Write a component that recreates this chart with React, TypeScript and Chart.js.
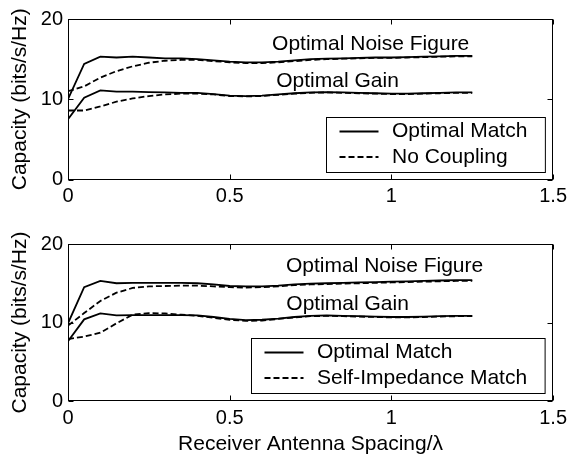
import React, { useEffect, useRef } from 'react';
import { Chart, registerables } from 'chart.js';

Chart.register(...registerables);

// Receiver antenna spacing (in wavelengths)
const spacing = [
  0, 0.05, 0.1, 0.15, 0.2, 0.25, 0.3, 0.35, 0.4, 0.45, 0.5, 0.55, 0.6,
  0.65, 0.7, 0.75, 0.8, 0.85, 0.9, 0.95, 1.0, 1.05, 1.1, 1.15, 1.2, 1.25,
];

// Top panel: Optimal Match vs No Coupling
const topNoiseOptimal = [
  10.0, 14.4, 15.3, 15.2, 15.3, 15.2, 15.1, 15.1, 15.0, 14.85, 14.7, 14.6, 14.6,
  14.7, 14.85, 15.0, 15.05, 15.1, 15.15, 15.2, 15.2, 15.25, 15.3, 15.35, 15.4, 15.4,
];
const topNoiseNoCoupling = [
  11.0, 11.6, 12.7, 13.5, 14.1, 14.55, 14.8, 14.9, 14.9, 14.75, 14.6, 14.5, 14.5,
  14.6, 14.75, 14.9, 15.0, 15.05, 15.1, 15.15, 15.15, 15.2, 15.25, 15.3, 15.35, 15.35,
];
const topGainOptimal = [
  7.5, 10.2, 11.1, 10.95, 10.95, 10.9, 10.85, 10.8, 10.8, 10.65, 10.45, 10.4, 10.45,
  10.6, 10.75, 10.85, 10.9, 10.85, 10.8, 10.75, 10.7, 10.7, 10.75, 10.8, 10.85, 10.85,
];
const topGainNoCoupling = [
  8.6, 8.6, 9.1, 9.7, 10.1, 10.4, 10.6, 10.7, 10.7, 10.6, 10.4, 10.35, 10.4,
  10.55, 10.7, 10.8, 10.85, 10.8, 10.75, 10.7, 10.65, 10.65, 10.7, 10.75, 10.8, 10.8,
];

// Bottom panel: Optimal Match vs Self-Impedance Match
const botNoiseOptimal = [
  9.9, 14.5, 15.3, 15.0, 15.05, 15.05, 15.05, 15.05, 15.0, 14.85, 14.65, 14.6, 14.6,
  14.7, 14.85, 14.95, 15.0, 15.05, 15.1, 15.15, 15.2, 15.25, 15.3, 15.35, 15.4, 15.4,
];
const botNoiseSelfImp = [
  9.6, 11.2, 12.75, 13.8, 14.4, 14.6, 14.65, 14.7, 14.7, 14.6, 14.5, 14.45, 14.5,
  14.6, 14.75, 14.85, 14.9, 14.95, 15.0, 15.05, 15.1, 15.15, 15.2, 15.25, 15.3, 15.3,
];
const botGainOptimal = [
  7.6, 10.4, 11.15, 10.9, 10.95, 10.95, 10.95, 10.95, 10.9, 10.7, 10.45, 10.3, 10.35,
  10.5, 10.7, 10.85, 10.9, 10.85, 10.8, 10.75, 10.7, 10.7, 10.75, 10.8, 10.85, 10.85,
];
const botGainSelfImp = [
  7.9, 8.2, 8.7, 9.9, 11.0, 11.2, 11.15, 11.0, 10.85, 10.6, 10.35, 10.2, 10.25,
  10.45, 10.65, 10.8, 10.85, 10.8, 10.75, 10.7, 10.65, 10.65, 10.7, 10.75, 10.8, 10.8,
];

const xTickValues = [0, 0.5, 1, 1.5];
const yTickValues = [0, 10, 20];

const topLegend = ['Optimal Match', 'No Coupling'];
const bottomLegend = ['Optimal Match', 'Self-Impedance Match'];

const curveLabels = ['Optimal Noise Figure', 'Optimal Gain'];
const topLabelPos = [
  { x: 0.631, y: 16.1 },
  { x: 0.644, y: 11.55 },
];
const bottomLabelPos = [
  { x: 0.674, y: 16.45 },
  { x: 0.675, y: 11.64 },
];

const yTitle = 'Capacity (bits/s/Hz)';
const xTitle = 'Receiver Antenna Spacing/\u03BB';

const FAMILY = "'Liberation Sans', Arial, Helvetica, sans-serif";
const DASH = [6, 3];

const toXY = (ys: number[]) => ys.map((y, i) => ({ x: spacing[i], y }));

const framePlugin = {
  id: 'frame',
  afterDatasetsDraw(chart: any, _args: any, opts: any) {
    const { ctx, chartArea: a, scales } = chart;
    const xs = scales.x;
    const ys = scales.y;
    ctx.save();
    ctx.strokeStyle = '#000';
    ctx.lineWidth = 1;
    ctx.setLineDash([]);
    const L = Math.round(a.left) + 0.5;
    const R = Math.round(a.right) - 0.5;
    const T = Math.round(a.top) + 0.5;
    const B = Math.round(a.bottom) - 0.5;
    ctx.strokeRect(L, T, R - L, B - T);
    const tl = 5;
    ctx.beginPath();
    for (const v of xTickValues) {
      const px = Math.round(xs.getPixelForValue(v)) + 0.5;
      ctx.moveTo(px, B);
      ctx.lineTo(px, B - tl);
      ctx.moveTo(px, T);
      ctx.lineTo(px, T + tl);
    }
    for (const v of yTickValues) {
      const py = Math.round(ys.getPixelForValue(v)) + 0.5;
      ctx.moveTo(L, py);
      ctx.lineTo(L + tl, py);
      ctx.moveTo(R, py);
      ctx.lineTo(R - tl, py);
    }
    ctx.stroke();

    // curve annotations
    ctx.fillStyle = '#000';
    ctx.font = `21px ${FAMILY}`;
    ctx.textAlign = 'left';
    ctx.textBaseline = 'alphabetic';
    opts.labels.forEach((t: string, i: number) => {
      const p = opts.labelPos[i];
      ctx.fillText(t, xs.getPixelForValue(p.x), ys.getPixelForValue(p.y));
    });

    // legend box
    const items: string[] = opts.legend;
    const textW = Math.max(...items.map((t) => ctx.measureText(t).width));
    const textOff = 65.5;
    const bw = textOff + textW + 18;
    const bh = 55;
    const bx = Math.round(a.right - 8 - bw) + 0.5;
    const by = Math.round(a.bottom - 8 - bh) + 0.5;
    ctx.fillStyle = '#fff';
    ctx.fillRect(bx, by, bw, bh);
    ctx.strokeRect(bx, by, bw, bh);
    ctx.fillStyle = '#000';
    ctx.textBaseline = 'middle';
    items.forEach((t, i) => {
      const cy = by + 14 + i * 25.5;
      ctx.beginPath();
      ctx.lineWidth = 1.8;
      ctx.setLineDash(i === 0 ? [] : DASH);
      ctx.moveTo(bx + 13, cy);
      ctx.lineTo(bx + 52, cy);
      ctx.stroke();
      ctx.setLineDash([]);
      ctx.fillText(t, bx + textOff, cy);
    });
    ctx.restore();
  },
};

type PanelProps = {
  height: number;
  padTop: number;
  xAxisHeight: number;
  showXTitle: boolean;
  series: number[][];
  legend: string[];
  labelPos: { x: number; y: number }[];
};

function Panel(props: PanelProps) {
  const ref = useRef<HTMLCanvasElement>(null);
  useEffect(() => {
    const canvas = ref.current;
    if (!canvas) return;
    const [nfOpt, nfAlt, gOpt, gAlt] = props.series;
    const line = (label: string, ys: number[], dashed: boolean) => ({
      label,
      data: toXY(ys),
      borderColor: '#000',
      backgroundColor: '#000',
      borderWidth: 1.8,
      borderDash: dashed ? DASH : [],
      pointRadius: 0,
      tension: 0,
      fill: false,
    });
    const chart = new Chart(canvas, {
      type: 'line',
      data: {
        datasets: [
          line(props.legend[0], nfOpt, false),
          line(props.legend[1], nfAlt, true),
          line(props.legend[0], gOpt, false),
          line(props.legend[1], gAlt, true),
        ],
      },
      options: {
        responsive: false,
        animation: false,
        layout: { padding: { left: 0, right: 17, top: props.padTop, bottom: 0 } },
        plugins: {
          legend: { display: false },
          tooltip: { enabled: false },
          // @ts-ignore
          frame: { labels: curveLabels, labelPos: props.labelPos, legend: props.legend },
        },
        scales: {
          x: {
            type: 'linear',
            min: 0,
            max: 1.5,
            afterBuildTicks: (s: any) => {
              s.ticks = xTickValues.map((v) => ({ value: v }));
            },
            afterFit: (s: any) => {
              s.height = props.xAxisHeight;
            },
            ticks: {
              color: '#000',
              font: { family: FAMILY, size: 20 },
              padding: 5,
              maxRotation: 0,
              autoSkip: false,
              callback: (v: any) => String(v),
            },
            grid: { display: false, drawTicks: false },
            border: { display: false },
            title: {
              display: props.showXTitle,
              text: xTitle,
              color: '#000',
              font: { family: FAMILY, size: 21, lineHeight: 1 },
              padding: { top: 0, bottom: 0 },
            },
          },
          y: {
            type: 'linear',
            min: 0,
            max: 20,
            afterBuildTicks: (s: any) => {
              s.ticks = yTickValues.map((v) => ({ value: v }));
            },
            afterFit: (s: any) => {
              s.width = 68;
            },
            ticks: {
              color: '#000',
              font: { family: FAMILY, size: 20 },
              padding: 5,
              autoSkip: false,
              callback: (v: any) => String(v),
            },
            grid: { display: false, drawTicks: false },
            border: { display: false },
            title: {
              display: true,
              text: yTitle,
              color: '#000',
              font: { family: FAMILY, size: 21, lineHeight: 1 },
              padding: { top: 10, bottom: 0 },
            },
          },
        },
      },
      plugins: [framePlugin],
    } as any);
    return () => chart.destroy();
  }, []);
  return <canvas ref={ref} width={572} height={props.height} style={{ display: 'block' }} />;
}

export default function App() {
  return (
    <div style={{ position: 'fixed', left: 0, top: 0, width: 572, height: 455, background: '#fff' }}>
      <Panel
        height={227}
        padTop={19}
        xAxisHeight={47.5}
        showXTitle={false}
        series={[topNoiseOptimal, topNoiseNoCoupling, topGainOptimal, topGainNoCoupling]}
        legend={topLegend}
        labelPos={topLabelPos}
      />
      <Panel
        height={228}
        padTop={12.5}
        xAxisHeight={54}
        showXTitle={true}
        series={[botNoiseOptimal, botNoiseSelfImp, botGainOptimal, botGainSelfImp]}
        legend={bottomLegend}
        labelPos={bottomLabelPos}
      />
    </div>
  );
}
